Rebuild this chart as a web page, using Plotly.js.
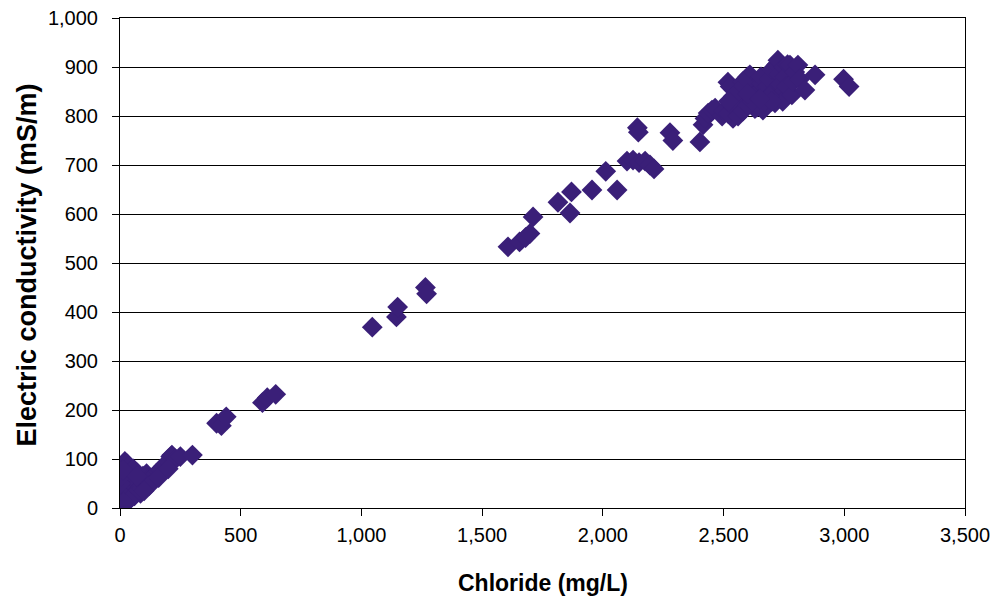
<!DOCTYPE html>
<html>
<head>
<meta charset="utf-8">
<script src="https://cdn.plot.ly/plotly-3.0.1.min.js"></script>
<style>html,body{margin:0;padding:0;background:#fff;}#chart{width:994px;height:604px;}</style>
</head>
<body>
<div id="chart"></div>
<script>
// Chloride (mg/L) vs Electric conductivity (mS/m)
const lowChloride = [5,8,10,12,5,15,8,20,10,25,15,30,20,35,40,45,50,30,25,18,40,55,60,65,70,55,75,80,90,100,95,110,120,130,140,150,160,170,180,190,200,210,215,230,250,300,85,60,45,3,2,6,12,70,120,100,160,200,35,15];
const lowConductivity = [10,18,25,32,40,45,55,60,68,75,82,90,95,85,70,60,50,38,28,20,30,35,45,60,72,80,50,40,45,50,65,70,60,58,65,70,75,78,85,90,95,105,108,100,105,108,30,25,20,30,50,65,78,65,45,35,62,80,15,12];

const midChloride = [400,420,440,590,610,645,1045,1145,1150,1265,1270,1607,1655,1680,1698,1711,1814,1870,1864,1955,2012,2059,2100,2125,2150,2175,2195,2212,2143,2147,2278,2290,2402,2415,2423,2436,2452];
const midConductivity = [173,168,186,215,225,232,369,390,410,450,437,533,543,552,560,594,624,645,602,649,687,649,708,710,705,708,700,692,776,767,766,750,747,782,795,806,812];

const highChloride = [2465,2494,2518,2527,2539,2550,2560,2570,2580,2590,2600,2609,2615,2620,2625,2630,2638,2645,2650,2655,2660,2663,2670,2680,2690,2700,2705,2713,2720,2725,2730,2735,2740,2745,2750,2755,2760,2765,2775,2783,2788,2795,2808,2815,2837,2879,2997,3020,2500,2520,2540,2560,2580,2600,2620,2580,2560,2540,2520,2600,2690,2700,2650];
const highConductivity = [816,800,869,860,795,815,830,845,855,870,880,884,860,840,825,815,818,850,870,880,840,812,830,860,875,895,850,827,905,914,885,865,845,830,900,880,860,905,904,843,870,890,904,875,853,884,875,860,810,805,820,800,810,822,830,870,850,840,830,845,840,830,835];

const xTicks = [0,500,1000,1500,2000,2500,3000,3500];
const yTicks = [0,100,200,300,400,500,600,700,800,900,1000];
const xTitle = 'Chloride (mg/L)';
const yTitle = 'Electric conductivity (mS/m)';

const chloride = lowChloride.concat(midChloride, highChloride);
const conductivity = lowConductivity.concat(midConductivity, highConductivity);

const trace = {
  x: chloride,
  y: conductivity,
  type: 'scatter',
  mode: 'markers',
  marker: {symbol: 'diamond', size: 16, color: '#3a1f78', line: {width: 0}},
  hoverinfo: 'x+y'
};

const fontFam = '"Liberation Sans", Arial, sans-serif';
const layout = {
  width: 994, height: 604,
  margin: {l: 120, r: 29, t: 18, b: 96},
  paper_bgcolor: '#ffffff', plot_bgcolor: '#ffffff',
  showlegend: false,
  font: {family: fontFam, color: '#000000', size: 20},
  xaxis: {
    range: [0, 3500], tickvals: xTicks, tickformat: ',d',
    ticks: 'outside', ticklen: 7, tickcolor: '#000', tickwidth: 1,
    showline: true, linecolor: '#000', linewidth: 1, mirror: true,
    showgrid: false, zeroline: false,
    tickfont: {size: 20}, ticklabelstandoff: 2,
    automargin: false
  },
  yaxis: {
    range: [0, 1000], tickvals: yTicks, tickformat: ',d',
    ticks: 'outside', ticklen: 7, tickcolor: '#000', tickwidth: 1,
    showline: true, linecolor: '#000', linewidth: 1, mirror: true,
    showgrid: true, gridcolor: '#000', gridwidth: 1, zeroline: false,
    tickfont: {size: 20}, ticklabelstandoff: 10,
    automargin: false
  },
  annotations: [
    {text: xTitle, xref: 'paper', yref: 'paper', x: 0.5, y: -0.153,
     xanchor: 'center', yanchor: 'middle', showarrow: false,
     font: {size: 23, family: fontFam, weight: 'bold', color: '#000'}},
    {text: yTitle, xref: 'paper', yref: 'paper', x: -0.11, y: 0.495, textangle: -90,
     xanchor: 'center', yanchor: 'middle', showarrow: false,
     font: {size: 27, family: fontFam, weight: 'bold', color: '#000'}}
  ]
};

Plotly.newPlot('chart', [trace], layout, {displayModeBar: false, staticPlot: true});
</script>
</body>
</html>
